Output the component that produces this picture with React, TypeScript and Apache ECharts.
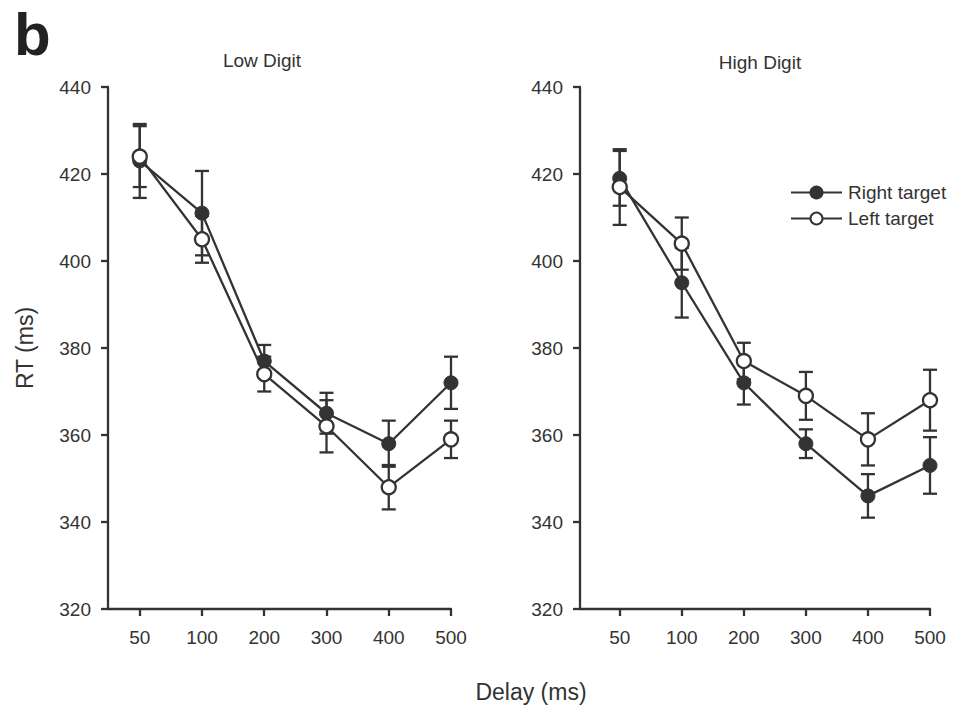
import React, { useEffect, useRef } from "react";
import * as echarts from "echarts";

const categories = ["50", "100", "200", "300", "400", "500"];
const yTicks = [320, 340, 360, 380, 400, 420, 440];

const lowRight = [423, 411, 377, 365, 358, 372];
const lowRightErr = [8.5, 9.7, 3.7, 4.7, 5.3, 6];
const lowLeft = [424, 405, 374, 362, 348, 359];
const lowLeftErr = [7, 5.4, 4, 6, 5.1, 4.3];

const highRight = [419, 395, 372, 358, 346, 353];
const highRightErr = [6.3, 8, 5, 3.3, 5, 6.5];
const highLeft = [417, 404, 377, 369, 359, 368];
const highLeftErr = [8.7, 6, 4.2, 5.5, 6, 7];

const FONT = "'Liberation Sans', Arial, sans-serif";
const INK = "#333";

function errSeries(vals: number[], errs: number[], axis: number) {
  return {
    type: "custom",
    xAxisIndex: axis,
    yAxisIndex: axis,
    z: 1,
    silent: true,
    encode: { x: 0, y: 1 },
    data: vals.map((v, i) => [i, v, errs[i]]),
    renderItem: (params: any, api: any) => {
      const x = api.value(0);
      const y = api.value(1);
      const e = api.value(2);
      const top = api.coord([x, y + e]);
      const bot = api.coord([x, y - e]);
      const hw = 7;
      const style = { stroke: INK, lineWidth: 2.3 };
      return {
        type: "group",
        children: [
          { type: "line", shape: { x1: top[0], y1: top[1], x2: bot[0], y2: bot[1] }, style },
          { type: "line", shape: { x1: top[0] - hw, y1: top[1], x2: top[0] + hw, y2: top[1] }, style },
          { type: "line", shape: { x1: bot[0] - hw, y1: bot[1], x2: bot[0] + hw, y2: bot[1] }, style },
        ],
      };
    },
  };
}

function lineSeries(name: string, vals: number[], axis: number, filled: boolean) {
  return {
    type: "line",
    name,
    xAxisIndex: axis,
    yAxisIndex: axis,
    z: 3,
    data: vals.map((v, i) => [i, v]),
    symbol: "circle",
    symbolSize: 14,
    lineStyle: { color: INK, width: 2.3 },
    itemStyle: filled
      ? { color: INK, borderColor: INK, borderWidth: 1 }
      : { color: "#fff", borderColor: INK, borderWidth: 2.3 },
  };
}

function xAxis(idx: number, min: number) {
  return {
    type: "value",
    gridIndex: idx,
    min,
    max: 5,
    axisLine: { show: true, onZero: false, lineStyle: { color: INK, width: 2.3 } },
    axisTick: { show: true, length: 7, lineStyle: { color: INK, width: 2.3 }, customValues: [0, 1, 2, 3, 4, 5] },
    axisLabel: {
      customValues: [0, 1, 2, 3, 4, 5],
      formatter: (v: number) => categories[Math.round(v)],
      color: INK,
      fontSize: 19,
      fontFamily: FONT,
      margin: 19,
    },
    splitLine: { show: false },
  };
}

function yAxis(idx: number) {
  return {
    type: "value",
    gridIndex: idx,
    min: yTicks[0],
    max: yTicks[yTicks.length - 1],
    interval: 20,
    axisLine: { show: true, onZero: false, lineStyle: { color: INK, width: 2.3 } },
    axisTick: { show: true, length: 7, lineStyle: { color: INK, width: 2.3 } },
    axisLabel: { color: INK, fontSize: 19, fontFamily: FONT, margin: 17 },
    splitLine: { show: false },
    ...(idx === 0
      ? {
          name: "RT (ms)",
          nameLocation: "middle",
          nameGap: 72,
          nameTextStyle: { color: INK, fontSize: 23, fontFamily: FONT },
        }
      : {}),
  };
}

export default function App() {
  const ref = useRef<HTMLDivElement>(null);
  useEffect(() => {
    if (!ref.current) return;
    const chart = echarts.init(ref.current, null, { renderer: "svg" });
    chart.setOption({
      animation: false,
      backgroundColor: "#fff",
      grid: [
        { left: 108, top: 87, width: 343, height: 522 },
        { left: 580, top: 87, width: 350, height: 522 },
      ],
      xAxis: [xAxis(0, -0.51), xAxis(1, -0.64)],
      yAxis: [yAxis(0), yAxis(1)],
      legend: {
        orient: "vertical",
        left: 785,
        top: 178,
        itemWidth: 51,
        itemHeight: 15,
        itemGap: 7,
        data: ["Right target", "Left target"],
        textStyle: { color: INK, fontSize: 19, fontFamily: FONT, padding: [0, 0, 0, 1] },
      },
      graphic: [
        {
          type: "text",
          left: 14,
          top: 4,
          style: { text: "b", font: `bold 60px ${FONT}`, fill: "#222" },
        },
        {
          type: "text",
          x: 262,
          y: 60,
          style: { text: "Low Digit", font: `19px ${FONT}`, fill: INK, align: "center", verticalAlign: "middle" },
        },
        {
          type: "text",
          x: 760,
          y: 62,
          style: { text: "High Digit", font: `19px ${FONT}`, fill: INK, align: "center", verticalAlign: "middle" },
        },
        {
          type: "text",
          x: 531,
          y: 692,
          style: { text: "Delay (ms)", font: `23px ${FONT}`, fill: INK, align: "center", verticalAlign: "middle" },
        },
      ],
      series: [
        errSeries(lowRight, lowRightErr, 0),
        errSeries(lowLeft, lowLeftErr, 0),
        errSeries(highRight, highRightErr, 1),
        errSeries(highLeft, highLeftErr, 1),
        lineSeries("Right target", lowRight, 0, true),
        lineSeries("Left target", lowLeft, 0, false),
        lineSeries("Right target", highRight, 1, true),
        lineSeries("Left target", highLeft, 1, false),
      ],
    });
    return () => chart.dispose();
  }, []);
  return <div ref={ref} style={{ width: 963, height: 711, position: "absolute", left: 0, top: 0 }} />;
}
